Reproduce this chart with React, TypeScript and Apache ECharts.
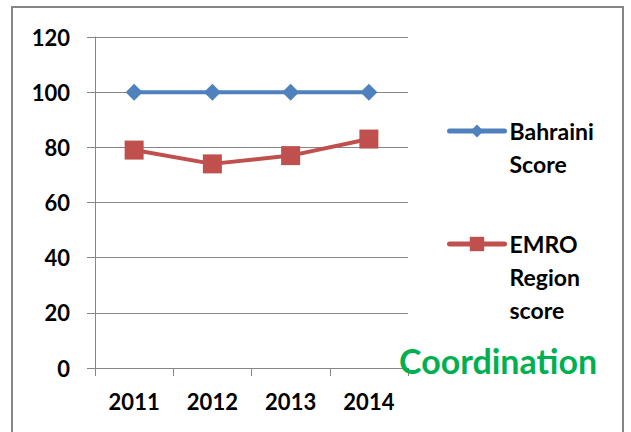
import React, { useEffect, useRef } from "react";
import * as echarts from "echarts";

const categories = ["2011", "2012", "2013", "2014"];
const bahrainiScore = [100, 100, 100, 100];
const emroScore = [79, 74, 77, 83];
const seriesNames = ["Bahraini Score", "EMRO Region score"];
const yMin = 0;
const yMax = 120;
const yInterval = 20;
const annotation = "Coordination";

const FONT = "Lato, 'Open Sans', sans-serif";

export default function App() {
  const ref = useRef<HTMLDivElement>(null);
  useEffect(() => {
    if (!ref.current) return;
    const chart = echarts.init(ref.current, undefined, { renderer: "svg" });
    const legendText = {
      color: "#000",
      fontWeight: "bold" as const,
      fontSize: 23,
      fontFamily: FONT,
      lineHeight: 33,
    };
    chart.setOption({
      animation: false,
      backgroundColor: "#fff",
      grid: { left: 95, right: 223, top: 37, bottom: 64 },
      xAxis: {
        type: "category",
        data: categories,
        boundaryGap: true,
        axisLine: { show: true, lineStyle: { color: "#868686", width: 1 } },
        axisTick: { show: true, length: 8, lineStyle: { color: "#868686" } },
        axisLabel: {
          color: "#000",
          fontWeight: "bold",
          fontSize: 22,
          fontFamily: FONT,
          margin: 22,
        },
        splitLine: { show: false },
      },
      yAxis: {
        type: "value",
        min: yMin,
        max: yMax,
        interval: yInterval,
        axisLine: { show: true, lineStyle: { color: "#868686", width: 1 } },
        axisTick: { show: true, length: 8, lineStyle: { color: "#868686" } },
        axisLabel: {
          color: "#000",
          fontWeight: "bold",
          fontSize: 22,
          fontFamily: FONT,
          margin: 25,
        },
        splitLine: { show: true, lineStyle: { color: "#868686", width: 1 } },
      },
      legend: [
        {
          data: [seriesNames[0]],
          left: 447,
          top: 81.5,
          padding: 0,
          itemWidth: 55,
          itemHeight: 16,
          formatter: () => "\nBahraini\nScore",
          textStyle: legendText,
          lineStyle: { width: 5, cap: "round" },
        },
        {
          data: [seriesNames[1]],
          left: 447,
          top: 161.5,
          padding: 0,
          itemWidth: 55,
          itemHeight: 18,
          formatter: () => "\n\nEMRO\nRegion\nscore",
          textStyle: legendText,
          lineStyle: { width: 5, cap: "round" },
        },
      ],
      graphic: [
        {
          type: "rect",
          shape: { x: 12, y: 7, width: 611, height: 430 },
          style: { fill: "none", stroke: "#868686", lineWidth: 2 },
          z: 100,
        },
        {
          type: "text",
          left: 399,
          top: 343,
          style: {
            text: annotation,
            fill: "#00B050",
            fontWeight: "bold",
            fontSize: 34,
            fontFamily: FONT,
          },
          z: 100,
        },
      ],
      series: [
        {
          name: seriesNames[0],
          type: "line",
          data: bahrainiScore,
          color: "#4F81BD",
          lineStyle: { width: 4, color: "#4F81BD" },
          symbol: "diamond",
          symbolSize: 17,
          itemStyle: { color: "#4F81BD" },
        },
        {
          name: seriesNames[1],
          type: "line",
          data: emroScore,
          color: "#C0504D",
          lineStyle: { width: 4, color: "#C0504D" },
          symbol: "rect",
          symbolSize: 19,
          itemStyle: { color: "#C0504D" },
        },
      ],
    });
    return () => chart.dispose();
  }, []);
  return (
    <div
      ref={ref}
      style={{ position: "fixed", left: 0, top: 0, width: 631, height: 432 }}
    />
  );
}
